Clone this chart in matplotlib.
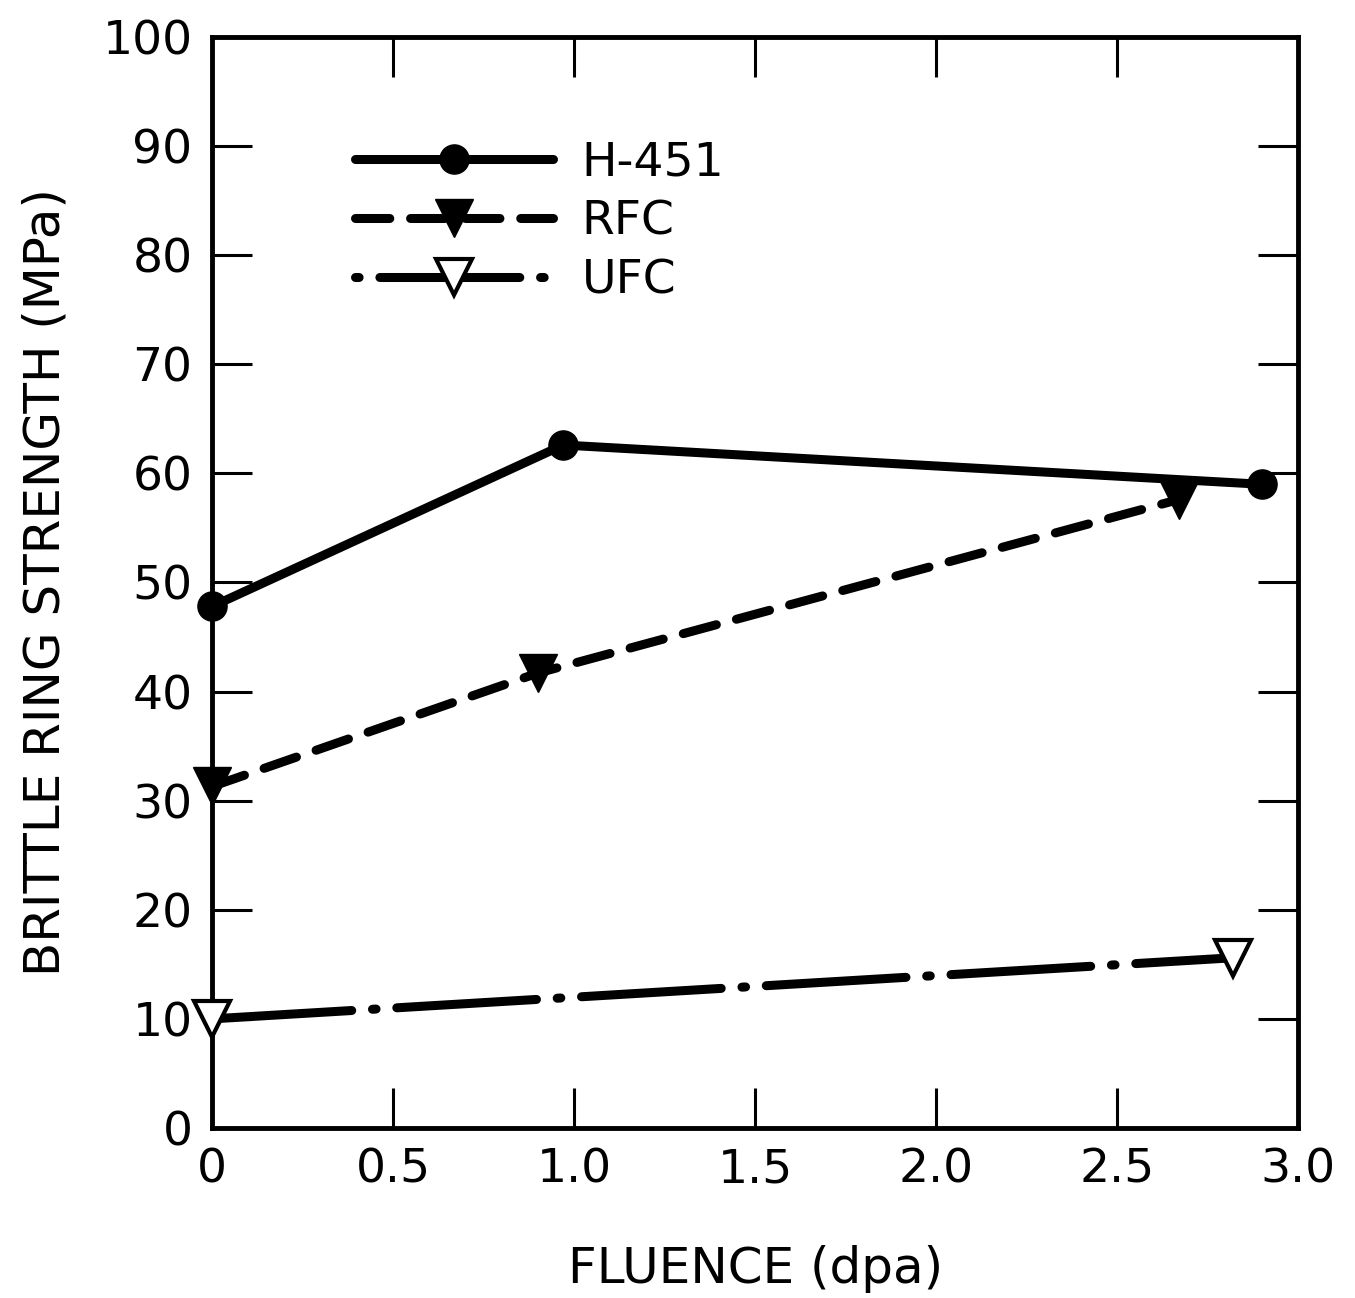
import numpy as np
import matplotlib
matplotlib.use("Agg")
import matplotlib.pyplot as plt
from matplotlib.lines import Line2D

# data
h451_x = [0.0, 0.97, 2.90]
h451_y = [47.8, 62.6, 59.0]
rfc_x = [0.0, 0.90, 2.67]
rfc_y = [31.3, 41.7, 57.6]
ufc_x = [0.0, 2.82]
ufc_y = [10.0, 15.6]

xticks = [0, 0.5, 1.0, 1.5, 2.0, 2.5, 3.0]
xticklabels = ["0", "0.5", "1.0", "1.5", "2.0", "2.5", "3.0"]
yticks = np.arange(0, 101, 10)

plt.rcParams['font.family'] = ['DejaVu Sans']
fig = plt.figure(figsize=(13.55, 12.98), dpi=100)
ax = fig.add_axes([0.1565, 0.131, 0.8015, 0.8405])

lw = 6.5
dashdot = (15.5, 2.3, 0.4, 2.3)
l1, = ax.plot(h451_x, h451_y, color='k', lw=lw, marker='o', ms=21,
              solid_capstyle='round', label="H-451", clip_on=False, zorder=3)
l2, = ax.plot(rfc_x, rfc_y, color='k', lw=lw, ls=(0, (3.8, 2.3)), marker='v', ms=27,
              dash_capstyle='round', label="RFC", clip_on=False, zorder=3)
ax.plot(ufc_x, ufc_y, color='k', lw=lw, ls=(0, dashdot), marker='v', ms=26,
        mfc='white', mec='k', mew=3, dash_capstyle='round',
        clip_on=False, zorder=3)
# legend sample for UFC starts on the dot, like the original
l3 = Line2D([], [], color='k', lw=lw, ls=(17.8, dashdot), marker='v', ms=26,
            mfc='white', mec='k', mew=3, dash_capstyle='round')

ax.set_xlim(0, 3.0)
ax.set_ylim(0, 100)
ax.set_xticks(xticks)
ax.set_xticklabels(xticklabels)
ax.set_yticks(yticks)
ax.tick_params(direction='in', length=29, width=2.2, top=True, right=True,
               labelsize=34, pad=14)
for s in ax.spines.values():
    s.set_linewidth(3.5)

ax.set_xlabel("FLUENCE (dpa)", fontsize=36, labelpad=38)
ax.set_ylabel("BRITTLE RING STRENGTH (MPa)", fontsize=36, labelpad=24)

ax.legend([l1, l2, l3], ["H-451", "RFC", "UFC"],
          loc='upper left', bbox_to_anchor=(0.11, 0.927), frameon=False,
          fontsize=34, handlelength=4.2, handletextpad=0.6, labelspacing=0.3,
          borderpad=0)

fig.savefig("out.png", dpi=100)
